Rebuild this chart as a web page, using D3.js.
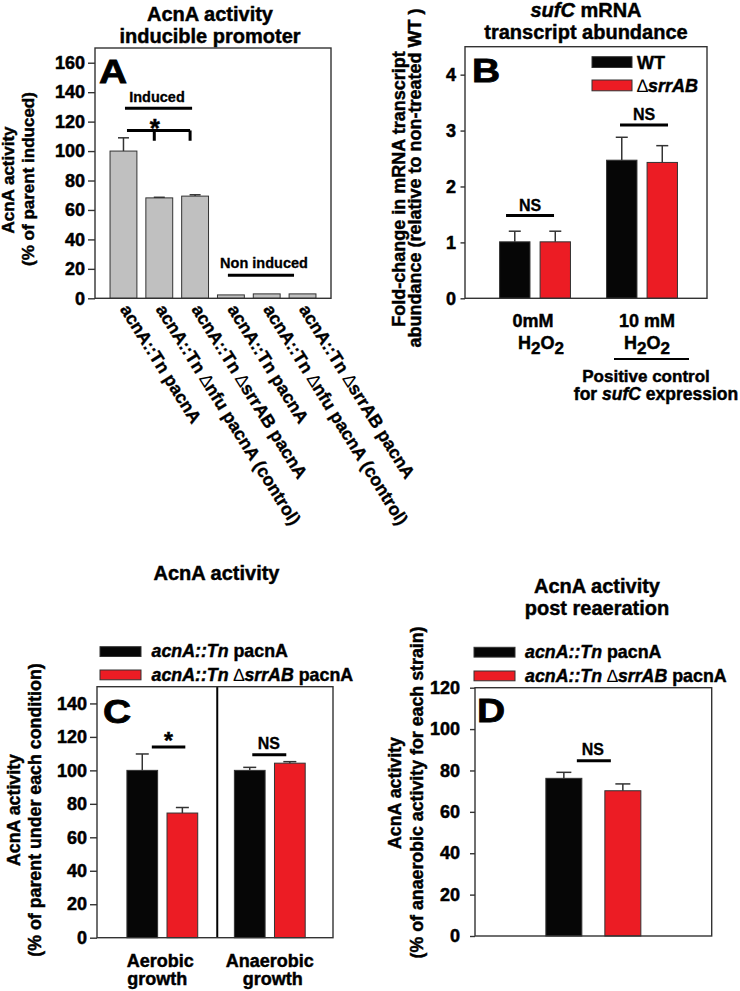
<!DOCTYPE html>
<html><head><meta charset="utf-8">
<script src="https://cdn.jsdelivr.net/npm/d3@7"></script>
<style>body{margin:0;background:#fff}svg{display:block}</style>
</head><body><svg id="chart" width="740" height="991"></svg>
<script>
// ---------------- DATA ----------------
// Panel A
const aTitle = ["AcnA activity", "inducible promoter"];
const aYLabel = ["AcnA activity", "(% of parent induced)"];
const aLabels = [
  [["acnA::Tn pacnA"]],
  [["acnA::Tn "], ["∆", "n"], ["nfu pacnA (control)"]],
  [["acnA::Tn "], ["∆", "n"], ["srrAB pacnA"]],
  [["acnA::Tn pacnA"]],
  [["acnA::Tn "], ["∆", "n"], ["nfu pacnA (control)"]],
  [["acnA::Tn "], ["∆", "n"], ["srrAB pacnA"]]
];
const aValues = [100, 68.2, 69.4, 2.3, 3.0, 3.0];
const aErrors = [9, 0.4, 0.9, 0, 0, 0];
const aTicks = [0, 20, 40, 60, 80, 100, 120, 140, 160];
const aDomain = [0, 170];

// Panel B
const bTitle = [[["sufC", "i"], [" mRNA"]], [["transcript abundance"]]];
const bYLabel = ["Fold-change in mRNA transcript", "abundance (relative to non-treated WT )"];
const bGroups = ["0mM", "10 mM"];
const bSeries = ["WT", "srrAB"];
const bLegend = [[["WT"]], [["∆", "n"], ["srrAB", "i"]]];
const bWT = [1.01, 2.47];
const bWTErr = [0.19, 0.41];
const bSrr = [1.01, 2.43];
const bSrrErr = [0.19, 0.30];
const bTicks = [0, 1, 2, 3, 4];
const bDomain = [0, 4.5];

// Panel C
const cTitle = ["AcnA activity"];
const cYLabel = ["AcnA activity", "(% of parent under each condition)"];
const cGroups = ["Aerobic growth", "Anaerobic growth"];
const cSeries = ["parent", "srrAB"];
const cParent = [100, 100];
const cParentErr = [9.8, 1.8];
const cSrr = [74.5, 104.3];
const cSrrErr = [3.3, 0.9];
const cTicks = [0, 20, 40, 60, 80, 100, 120, 140];
const cDomain = [0, 150];

// Panel D
const dTitle = ["AcnA activity", "post reaeration"];
const dYLabel = ["AcnA activity", "(% of anaerobic activity for each strain)"];
const dGroups = ["post reaeration"];
const dParent = [76.2];
const dParentErr = [2.9];
const dSrr = [70.2];
const dSrrErr = [3.3];
const dTicks = [0, 20, 40, 60, 80, 100, 120];
const dDomain = [0, 120];

const strainLegend = [
  [["acnA::Tn", "i"], [" pacnA"]],
  [["acnA::Tn", "i"], [" "], ["∆", "n"], ["srrAB", "i"], [" pacnA"]]
];

// ---------------- DRAWING ----------------
const FONT = '"Liberation Sans", Arial, Helvetica, sans-serif';
const BLACK = "#060606", RED = "#ec1c24", GRAY = "#c0c0c0", LINE = "#333";
const THICK = 0.45; // slight stroke to mimic the heavy bold of the original
const svg = d3.select("#chart");
svg.append("rect").attr("width", 740).attr("height", 991).attr("fill", "#fff");

function txt(g, x, y, parts, opt = {}) {
  const t = g.append("text").attr("x", x).attr("y", y)
    .attr("font-family", FONT).attr("font-weight", "bold")
    .attr("font-size", opt.size || 17).attr("text-anchor", opt.anchor || "middle")
    .attr("fill", "#000").attr("stroke", "#000").attr("stroke-width", opt.thick ?? THICK);
  if (opt.rotate) t.attr("transform", `rotate(${opt.rotate},${x},${y})`);
  if (typeof parts === "string") parts = [[parts]];
  let shifted = false;
  parts.forEach(p => {
    const s = t.append("tspan").text(p[0]);
    if (p[1] === "i") s.attr("font-style", "italic");
    if (p[1] === "n") s.attr("font-weight", "normal").attr("stroke-width", 0);
    if (p[1] === "sub") { s.attr("dy", 5).attr("font-size", (opt.size || 17) * 0.95); shifted = true; }
    else if (shifted) { s.attr("dy", -5); shifted = false; }
  });
  return t;
}

function yAxis(g, y, x0, ticks, tlen, pad, fs) {
  const ax = d3.axisLeft(y).tickValues(ticks).tickSize(tlen).tickPadding(pad)
    .tickSizeOuter(0).tickFormat(d3.format("d"));
  const gg = g.append("g").attr("transform", `translate(${x0},0)`).call(ax);
  gg.select(".domain").remove();
  gg.selectAll(".tick line").attr("stroke", LINE).attr("stroke-width", 1.4);
  gg.selectAll(".tick text").attr("font-family", FONT).attr("font-weight", "bold")
    .attr("font-size", fs).attr("fill", "#000").attr("stroke", "#000").attr("stroke-width", 0.5);
}

function frame(g, x0, x1, yT, yB) {
  g.append("rect").attr("x", x0).attr("y", yT).attr("width", x1 - x0).attr("height", yB - yT)
    .attr("fill", "none").attr("stroke", LINE).attr("stroke-width", 1.4);
}

function errBar(g, cx, y, v, e, cap) {
  if (e <= 0) return;
  g.append("line").attr("x1", cx).attr("x2", cx).attr("y1", y(v)).attr("y2", y(v + e))
    .attr("stroke", LINE).attr("stroke-width", 1.5);
  g.append("line").attr("x1", cx - cap / 2).attr("x2", cx + cap / 2).attr("y1", y(v + e)).attr("y2", y(v + e))
    .attr("stroke", LINE).attr("stroke-width", 1.5);
}

function hline(g, xa, xb, yy, w = 3) {
  g.append("line").attr("x1", xa).attr("x2", xb).attr("y1", yy).attr("y2", yy)
    .attr("stroke", "#000").attr("stroke-width", w);
}

function panelLetter(g, x, y, L) {
  g.append("text").attr("transform", `translate(${x},${y}) scale(1.18,1)`)
    .attr("font-family", FONT).attr("font-weight", "bold").attr("font-size", 33)
    .attr("fill", "#000").attr("stroke", "#000").attr("stroke-width", 0.8).text(L);
}

function yLabel(g, lines, xs, yc, fs) {
  lines.forEach((l, i) => txt(g, xs[i], yc[i], l, { size: fs, rotate: -90 }));
}

// ---------- Panel A ----------
{
  const g = svg.append("g");
  const x0 = 95, x1 = 331, yT = 48, yB = 298.3;
  const y = d3.scaleLinear().domain(aDomain).range([yB, yT]);
  const x = d3.scaleBand().domain(d3.range(aValues.length)).range([x0, x1])
    .paddingInner(0.25).paddingOuter(0.42);
  const bw = x.bandwidth();
  g.selectAll(".barA").data(aValues).join("rect")
    .attr("x", (d, i) => x(i)).attr("y", d => y(d)).attr("width", bw).attr("height", d => yB - y(d))
    .attr("fill", GRAY).attr("stroke", LINE).attr("stroke-width", 1);
  aValues.forEach((v, i) => errBar(g, x(i) + bw / 2, y, v, aErrors[i], 11));
  frame(g, x0, x1, yT, yB);
  yAxis(g, y, x0, aTicks, 7, 3, 18);
  aTitle.forEach((t, i) => txt(g, 210, 21 + i * 22, t, { size: 20 }));
  yLabel(g, aYLabel, [14, 33.5], [180, 179], 17);
  panelLetter(g, 99, 82.5, "A");
  // Induced bracket
  const c = i => x(i) + bw / 2;
  txt(g, 157, 101.5, "Induced", { size: 14.5, thick: 0.3 });
  hline(g, c(0) + 1.5, c(2) - 3, y(129));
  // star bracket
  hline(g, c(0) + 3.5, c(2) - 5, y(114));
  [1, 2].forEach(i => g.append("line").attr("x1", c(i) - 5).attr("x2", c(i) - 5)
    .attr("y1", y(114)).attr("y2", y(107)).attr("stroke", "#000").attr("stroke-width", 3));
  txt(g, c(1) - 4.5, y(114) + 7, "*", { size: 26 });
  // Non induced
  txt(g, 264, 267.5, "Non induced", { size: 14.5, thick: 0.3 });
  hline(g, c(3) - 3, c(5) - 8.5, y(15.6));
  // rotated category labels
  aLabels.forEach((lab, i) => txt(g, c(i) - 4, yB + 11, lab, { size: 17.8, anchor: "start", rotate: 58, thick: 0.35 }));
}

// ---------- Panel B ----------
{
  const g = svg.append("g");
  const x0 = 465, x1 = 707, yT = 46.7, yB = 298.3;
  const y = d3.scaleLinear().domain(bDomain).range([yB, yT]);
  const xg = d3.scaleBand().domain(bGroups).range([x0, x1]).paddingInner(0).paddingOuter(0.131).align(0.59);
  const xs = d3.scaleBand().domain(bSeries).range([-40.5, 40.5]).paddingInner(0.25).paddingOuter(0.125);
  const series = [[bWT, bWTErr, BLACK], [bSrr, bSrrErr, RED]];
  series.forEach(([vals, errs, col], si) => {
    g.selectAll(null).data(vals).join("rect")
      .attr("x", (d, i) => xg(bGroups[i]) + xg.bandwidth() / 2 + xs(bSeries[si]))
      .attr("y", d => y(d)).attr("width", xs.bandwidth()).attr("height", d => yB - y(d))
      .attr("fill", col).attr("stroke", LINE).attr("stroke-width", 1);
    vals.forEach((v, i) => errBar(g, xg(bGroups[i]) + xg.bandwidth() / 2 + xs(bSeries[si]) + xs.bandwidth() / 2, y, v, errs[i], 12));
  });
  frame(g, x0, x1, yT, yB);
  yAxis(g, y, x0, bTicks, 4.5, 4.5, 18);
  bTitle.forEach((t, i) => txt(g, 586, 17 + i * 22, t, { size: 20 }));
  yLabel(g, bYLabel, [404.5, 421], [189, 178], 18);
  panelLetter(g, 472, 82, "B");
  // legend
  [[BLACK, 56.7], [RED, 80]].forEach(([col, yy], i) => {
    g.append("rect").attr("x", 592).attr("y", yy).attr("width", 40).attr("height", 10.8)
      .attr("fill", col).attr("stroke", LINE).attr("stroke-width", 1);
    txt(g, 637, yy + 11.8, bLegend[i], { size: 18, anchor: "start" });
  });
  // NS
  const gc = k => xg(k) + xg.bandwidth() / 2;
  [[bGroups[0], 1.48, -5], [bGroups[1], 3.1, 2]].forEach(([k, v, off]) => {
    hline(g, gc(k) + off - 24, gc(k) + off + 24, y(v));
    txt(g, gc(k) + off, y(v) - 4.5, "NS", { size: 16, thick: 0.3 });
  });
  // x labels
  const h2o2 = [["H"], ["2", "sub"], ["O"], ["2", "sub"]];
  txt(g, gc(bGroups[0]) - 2, 326.5, bGroups[0], { size: 18 });
  txt(g, gc(bGroups[0]) + 6, 348.5, h2o2, { size: 18 });
  txt(g, gc(bGroups[1]) + 5, 326.5, bGroups[1], { size: 18 });
  txt(g, gc(bGroups[1]) + 5, 348.5, h2o2, { size: 18 });
  g.append("line").attr("x1", 614).attr("x2", 689).attr("y1", 359).attr("y2", 359)
    .attr("stroke", "#000").attr("stroke-width", 2);
  txt(g, 646, 381.5, "Positive control", { size: 17 });
  txt(g, 656, 400, [["for "], ["sufC", "i"], [" expression"]], { size: 17.5 });
}

// ---------- Panel C ----------
{
  const g = svg.append("g");
  const x0 = 97, x1 = 333, yT = 686.7, yB = 937.7;
  const y = d3.scaleLinear().domain(cDomain).range([yB, yT]);
  const xg = d3.scaleBand().domain(cGroups).range([x0, x1]).paddingInner(0).paddingOuter(0.098).align(0.55);
  const xs = d3.scaleBand().domain(cSeries).range([-40.1, 40.1]).paddingInner(0.234).paddingOuter(0.117);
  const gc = k => xg(k) + xg.bandwidth() / 2;
  const series = [[cParent, cParentErr, BLACK], [cSrr, cSrrErr, RED]];
  series.forEach(([vals, errs, col], si) => {
    g.selectAll(null).data(vals).join("rect")
      .attr("x", (d, i) => gc(cGroups[i]) + xs(cSeries[si]))
      .attr("y", d => y(d)).attr("width", xs.bandwidth()).attr("height", d => yB - y(d))
      .attr("fill", col).attr("stroke", LINE).attr("stroke-width", 1);
    vals.forEach((v, i) => errBar(g, gc(cGroups[i]) + xs(cSeries[si]) + xs.bandwidth() / 2, y, v, errs[i], 13));
  });
  // divider between conditions
  const dx = xg(cGroups[1]) + 1.2;
  g.append("line").attr("x1", dx).attr("x2", dx).attr("y1", yT).attr("y2", yB)
    .attr("stroke", "#000").attr("stroke-width", 2);
  frame(g, x0, x1, yT, yB);
  yAxis(g, y, x0, cTicks, 7, 3, 18);
  txt(g, 216.5, 580, cTitle[0], { size: 20 });
  yLabel(g, cYLabel, [19.5, 41.3], [810, 810], 17.8);
  panelLetter(g, 103, 722.5, "C");
  // legend
  [[BLACK, 646.7], [RED, 670]].forEach(([col, yy], i) => {
    g.append("rect").attr("x", 100).attr("y", yy).attr("width", 41).attr("height", 9.8)
      .attr("fill", col).attr("stroke", LINE).attr("stroke-width", 1);
    txt(g, 151.5, yy + 10.5, strainLegend[i], { size: 17.8, anchor: "start" });
  });
  // significance
  hline(g, gc(cGroups[0]) - 10.5, gc(cGroups[0]) + 23, y(114));
  txt(g, gc(cGroups[0]) + 6.2, y(114) + 2, "*", { size: 23 });
  hline(g, gc(cGroups[1]) - 17.5, gc(cGroups[1]) + 16.5, y(109.4));
  txt(g, gc(cGroups[1]) - 1, y(109.4) - 5.5, "NS", { size: 16, thick: 0.3 });
  // x labels
  cGroups.forEach((k, i) => {
    const [w1, w2] = k.split(" ");
    txt(g, gc(k) - 2 + i * 2, 966.5, w1, { size: 18 });
    txt(g, gc(k) - 5 + i * 8, 985, w2, { size: 18 });
  });
}

// ---------- Panel D ----------
{
  const g = svg.append("g");
  const x0 = 475, x1 = 711.7, yT = 687.7, yB = 936;
  const y = d3.scaleLinear().domain(dDomain).range([yB, yT]);
  const xg = d3.scaleBand().domain(dGroups).range([x0, x1]);
  const xs = d3.scaleBand().domain(cSeries).range([-59, 59]).paddingInner(0.39).paddingOuter(0.195);
  const gc = k => xg(k) + xg.bandwidth() / 2;
  const series = [[dParent, dParentErr, BLACK], [dSrr, dSrrErr, RED]];
  series.forEach(([vals, errs, col], si) => {
    g.selectAll(null).data(vals).join("rect")
      .attr("x", (d, i) => gc(dGroups[i]) + xs(cSeries[si]))
      .attr("y", d => y(d)).attr("width", xs.bandwidth()).attr("height", d => yB - y(d))
      .attr("fill", col).attr("stroke", LINE).attr("stroke-width", 1);
    vals.forEach((v, i) => errBar(g, gc(dGroups[i]) + xs(cSeries[si]) + xs.bandwidth() / 2, y, v, errs[i], 15));
  });
  frame(g, x0, x1, yT, yB);
  yAxis(g, y, x0, dTicks, 5, 10, 18);
  dTitle.forEach((t, i) => txt(g, 597, 593 + i * 21.5, t, { size: 20 }));
  yLabel(g, dYLabel, [401, 423], [793, 792.5], 17.8);
  panelLetter(g, 477, 722, "D");
  [[BLACK, 647.3], [RED, 671]].forEach(([col, yy], i) => {
    g.append("rect").attr("x", 474).attr("y", yy).attr("width", 41).attr("height", 9.8)
      .attr("fill", col).attr("stroke", LINE).attr("stroke-width", 1);
    txt(g, 525, yy + 10.8, strainLegend[i], { size: 17.8, anchor: "start" });
  });
  hline(g, gc(dGroups[0]) - 16.5, gc(dGroups[0]) + 17.5, y(84.7));
  txt(g, gc(dGroups[0]) - 0.5, y(84.7) - 6, "NS", { size: 16, thick: 0.3 });
}
</script>
</body></html>
